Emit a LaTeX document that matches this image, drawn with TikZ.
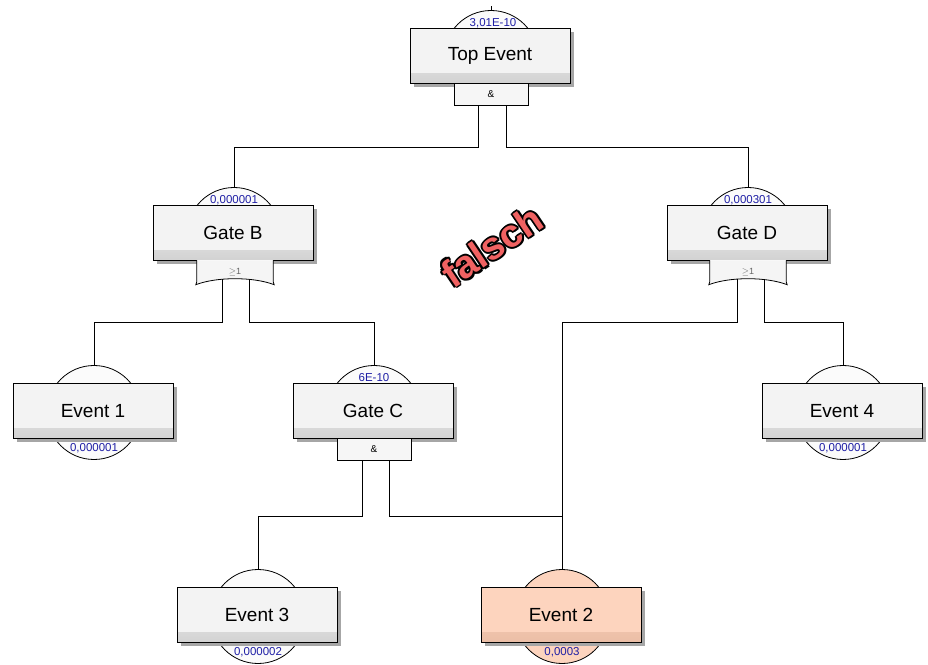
\documentclass[tikz,border=0pt]{standalone}
\usepackage{fontspec}
\setmainfont{Liberation Sans}
\usetikzlibrary{calc,shadows}
\definecolor{lblblue}{RGB}{30,30,165}
\definecolor{boxfill}{RGB}{243,243,243}
\definecolor{boxband}{RGB}{210,210,210}
\definecolor{peach}{RGB}{253,212,190}
\definecolor{peachband}{RGB}{235,190,166}
\definecolor{falschred}{RGB}{240,98,98}
\definecolor{gatefill}{RGB}{246,246,246}
\begin{document}
\begin{tikzpicture}[x=1pt,y=1pt,
  conn/.style={draw=black, line width=0.8pt},
  evbox/.style={draw=black, line width=0.9pt, minimum width=160pt, minimum height=55pt,
    inner sep=0pt, font=\fontsize{19}{21}\selectfont, fill=boxfill,
    drop shadow={shadow xshift=3.5pt, shadow yshift=-3.5pt, fill=gray!70, opacity=1},
    path picture={\shade[top color=boxfill, bottom color=boxband]
      ([yshift=0.5pt]path picture bounding box.south west) rectangle
      ([yshift=10pt]path picture bounding box.south east);}},
  hotbox/.style={evbox, fill=peach,
    path picture={\shade[top color=peach, bottom color=peachband]
      ([yshift=0.5pt]path picture bounding box.south west) rectangle
      ([yshift=10pt]path picture bounding box.south east);}},
  pcirc/.style={circle, draw=black, line width=0.8pt, minimum size=94pt, inner sep=0pt, fill=gray!3},
  andgate/.style={draw=black, line width=0.8pt, fill=gatefill, minimum width=74pt,
    minimum height=22pt, inner sep=0pt, font=\fontsize{10}{10}\selectfont},
  orgate/.style={minimum width=76pt, minimum height=24pt, inner sep=0pt},
  orshape/.style={draw=black, line width=0.8pt, fill=gray!8},
  ortext/.style={inner sep=0pt, text=black!60, font=\fontsize{9}{9}\selectfont},
  prob/.style={inner sep=0pt, text=lblblue, font=\fontsize{11.5}{12}\selectfont},
  fout/.style={inner sep=0pt, rotate=34, text=black, font=\fontsize{39}{42}\selectfont\bfseries},
  fin/.style={inner sep=0pt, rotate=34, text=falschred, font=\fontsize{39}{42}\selectfont\bfseries}
]
\useasboundingbox (0,0) rectangle (928,664);

% probability circles
\node[pcirc] (cTop) at (491,606.5) {};
\node[pcirc] (cB) at (234,429.5) {};
\node[pcirc] (cD) at (748,429.5) {};
\node[pcirc] (cE1) at (94,251.5) {};
\node[pcirc] (cC) at (374,251.5) {};
\node[pcirc] (cE4) at (843,251.5) {};
\node[pcirc] (cE3) at (258,47.5) {};
\node[pcirc, fill=peach] (cE2) at (562,47.5) {};

% boxes
\node[evbox] (top) at (490,608) {\raisebox{-2pt}{Top Event}};
\node[evbox] (gateB) at (233,431) {Gate B};
\node[evbox] (gateD) at (747,431) {Gate D};
\node[evbox] (ev1) at (93,253) {Event 1};
\node[evbox] (gateC) at (373,253) {Gate C};
\node[evbox] (ev4) at (842,253) {Event 4};
\node[evbox] (ev3) at (257,49) {Event 3};
\node[hotbox] (ev2) at (561,49) {Event 2};

% gates
\node[andgate] (gTop) at (491,569.5) {\&};
\node[andgate] (gC) at (374,214.5) {\&};

\node[orgate] (gB) at (235,391.5) {};
\fill[white] (gB.north west) rectangle ([yshift=-2pt]gB.south east);
\draw[orshape] (gB.north west) -- ([yshift=3pt]gB.south west)
  -- ([xshift=-1pt]gB.south west)
  .. controls ([xshift=20pt,yshift=8pt]gB.south west) and ([xshift=-20pt,yshift=8pt]gB.south east) .. ([xshift=1pt]gB.south east)
  -- ([yshift=3pt]gB.south east) -- (gB.north east);
\node[ortext] (gBt) at (gB) {$\geq$1};

\node[orgate] (gD) at (748,391.5) {};
\fill[white] (gD.north west) rectangle ([yshift=-2pt]gD.south east);
\draw[orshape] (gD.north west) -- ([yshift=3pt]gD.south west)
  -- ([xshift=-1pt]gD.south west)
  .. controls ([xshift=20pt,yshift=8pt]gD.south west) and ([xshift=-20pt,yshift=8pt]gD.south east) .. ([xshift=1pt]gD.south east)
  -- ([yshift=3pt]gD.south east) -- (gD.north east);
\node[ortext] (gDt) at (gD) {$\geq$1};

% probability labels
\node[prob] (pTop) at (493,641) {3,01E-10};
\node[prob] (pB) at (234,464) {0,000001};
\node[prob] (pD) at (748,464) {0,000301};
\node[prob] (pC) at (374,286) {6E-10};
\node[prob] (pE1) at (94,215.5) {0,000001};
\node[prob] (pE4) at (843,215.5) {0,000001};
\node[prob] (pE3) at (258,11.5) {0,000002};
\node[prob] (pE2) at (562,11.5) {0,0003};

% connectors
\coordinate (tstub) at ([yshift=4pt]cTop.north);
\draw[conn] (cTop.north) -- (tstub);
\draw[conn] ([xshift=-13pt]gTop.south) -- ++(0,-42) -| (cB.north);
\draw[conn] ([xshift=15pt]gTop.south) -- ++(0,-42) -| (cD.north);
\draw[conn] ([xshift=-13pt,yshift=5.5pt]gB.south) -- ++(0,-43) -| (cE1.north);
\draw[conn] ([xshift=14pt,yshift=5.5pt]gB.south) -- ++(0,-43) -| (cC.north);
\draw[conn] ([xshift=-11pt,yshift=5.5pt]gD.south) -- ++(0,-43) -| (cE2.north);
\draw[conn] ([xshift=16pt,yshift=5.5pt]gD.south) -- ++(0,-43) -| (cE4.north);
\draw[conn] ([xshift=-12pt]gC.south) -- ++(0,-55.5) -| (cE3.north);
\draw[conn] ([xshift=15pt]gC.south) -- ++(0,-55.5) -| (cE2.north);

% stamp
\coordinate (fc) at (492,418);
\foreach \a [count=\i] in {0,45,...,315}
  \node[fout] (fo\i) at ($(fc)+(\a:1.9)$) {falsch};
\node[fin] (fword) at (fc) {falsch};
\end{tikzpicture}
\end{document}
